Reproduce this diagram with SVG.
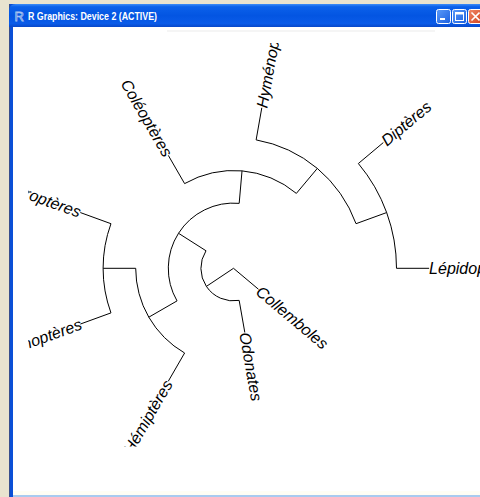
<svg xmlns="http://www.w3.org/2000/svg" width="480" height="497" viewBox="0 0 480 497">
  <defs>
    <linearGradient id="titleGrad" x1="0" y1="0" x2="0" y2="1">
      <stop offset="0" stop-color="#3E8DF7"/>
      <stop offset="0.12" stop-color="#0B61EA"/>
      <stop offset="0.5" stop-color="#0355E2"/>
      <stop offset="0.85" stop-color="#0A5BE8"/>
      <stop offset="1" stop-color="#0848C9"/>
    </linearGradient>
    <linearGradient id="btnBlue" x1="0" y1="0" x2="1" y2="1">
      <stop offset="0" stop-color="#5C9BF9"/>
      <stop offset="1" stop-color="#1A5FE0"/>
    </linearGradient>
    <linearGradient id="btnRed" x1="0" y1="0" x2="1" y2="1">
      <stop offset="0" stop-color="#F08A6A"/>
      <stop offset="1" stop-color="#D2411C"/>
    </linearGradient>
    <clipPath id="plotClip">
      <rect x="28.3" y="43" width="451.7" height="403.5"/>
    </clipPath>
  </defs>
  <style>
    .br { fill: none; stroke: #000; stroke-width: 1; }
    .lab { font-family: "Liberation Sans", Arial, sans-serif; font-size: 16px; font-style: italic; fill: #000; }
    .lab-r { text-anchor: start; }
    .lab-l { text-anchor: end; }
  </style>

  <!-- desktop and window frame -->
  <rect x="0" y="0" width="480" height="497" fill="#E9E3CF"/>
  <rect x="9" y="4" width="471" height="493" fill="#0A4FD6"/>
  <rect x="9" y="4" width="1" height="493" fill="#3A4F8C"/>
  <path d="M9 11 Q9 4 16 4 L480 4 L480 27 L9 27 Z" fill="url(#titleGrad)"/>
  <rect x="13" y="27" width="467" height="468" fill="#FFFFFF"/>
  <rect x="13" y="491" width="467" height="4" fill="#FFFEF4"/>
  <rect x="13" y="495" width="467" height="2" fill="#A9CBEF"/>
  <rect x="167" y="30" width="268" height="2" fill="#F5F5F5"/>

  <!-- title bar -->
  <text x="14.5" y="21" font-family="Liberation Sans, sans-serif" font-size="13" fill="none" stroke="#A9C3EE" stroke-width="0.8">R</text>
  <text x="28" y="19.5" font-family="Liberation Sans, sans-serif" font-weight="bold" font-size="10.5" fill="#FFFFFF" textLength="129" lengthAdjust="spacingAndGlyphs">R Graphics: Device 2 (ACTIVE)</text>
  <g id="btn-min">
    <rect x="436.5" y="9.5" width="14" height="14" rx="2" fill="url(#btnBlue)" stroke="#FFFFFF" stroke-width="1"/>
    <rect x="440" y="18" width="5" height="2" fill="#FFFFFF"/>
  </g>
  <g id="btn-max">
    <rect x="452.5" y="9.5" width="14" height="14" rx="2" fill="url(#btnBlue)" stroke="#FFFFFF" stroke-width="1"/>
    <rect x="455.5" y="12.5" width="8" height="8" fill="none" stroke="#FFFFFF" stroke-width="1"/>
    <rect x="455.5" y="12.5" width="8" height="2" fill="#FFFFFF"/>
  </g>
  <g id="btn-close">
    <rect x="468.5" y="9.5" width="14" height="14" rx="2" fill="url(#btnRed)" stroke="#FFFFFF" stroke-width="1"/>
    <path d="M471.5 12.5 L479.5 20.5 M479.5 12.5 L471.5 20.5" stroke="#FFFFFF" stroke-width="1.6"/>
  </g>

  <!-- tree: radial branches (centre 233.5,268.3; 32.6 px per level) -->
  <g id="edges" class="br">
    <path d="M233.5 268.3 L258.47 289.26"/>
    <path d="M233.5 268.3 L206.39 286.41"/>
    <path d="M239.16 300.40 L244.82 332.51"/>
    <path d="M206.00 250.78 L178.51 233.27"/>
    <path d="M177.04 300.90 L148.80 317.20"/>
    <path d="M239.18 203.35 L242.02 170.87"/>
    <path d="M184.60 353.00 L168.30 381.23"/>
    <path d="M135.70 268.30 L103.10 268.30"/>
    <path d="M110.96 312.90 L80.33 324.05"/>
    <path d="M110.96 223.70 L80.33 212.55"/>
    <path d="M184.60 183.60 L168.30 155.37"/>
    <path d="M296.36 193.38 L317.32 168.41"/>
    <path d="M256.14 139.88 L261.81 107.78"/>
    <path d="M356.04 223.70 L386.67 212.55"/>
    <path d="M358.36 163.53 L383.34 142.57"/>
    <path d="M396.50 268.30 L429.10 268.30"/>
  </g>

  <!-- internal nodes drawn as arcs -->
  <g id="node-A" class="br"><path d="M239.16 300.40 A32.6 32.6 0 0 1 206.00 250.78"/></g>
  <g id="node-B" class="br"><path d="M177.04 300.90 A65.2 65.2 0 0 1 239.18 203.35"/></g>
  <g id="node-F" class="br"><path d="M184.60 353.00 A97.8 97.8 0 0 1 135.70 268.30"/></g>
  <g id="node-G" class="br"><path d="M110.96 312.90 A130.4 130.4 0 0 1 110.96 223.70"/></g>
  <g id="node-C" class="br"><path d="M184.60 183.60 A97.8 97.8 0 0 1 296.36 193.38"/></g>
  <g id="node-D" class="br"><path d="M256.14 139.88 A130.4 130.4 0 0 1 356.04 223.70"/></g>
  <g id="node-E" class="br"><path d="M358.36 163.53 A163 163 0 0 1 396.50 268.30"/></g>

  <!-- tip labels, clipped to the plot region -->
  <g clip-path="url(#plotClip)">
    <g id="tip-lepidopteres"><text class="lab lab-r" transform="translate(429.1 268.3)" dy="0.35em">Lépidop</text></g>
    <g id="tip-dipteres"><text class="lab lab-r" transform="translate(383.34 142.57) rotate(-40)" dy="0.35em">Diptères</text></g>
    <g id="tip-hymenopteres"><text class="lab lab-r" transform="translate(261.81 107.78) rotate(-80)" dy="0.35em">Hyménop</text></g>
    <g id="tip-collemboles"><text class="lab lab-r" transform="translate(258.47 289.26) rotate(40)" dy="0.35em">Collemboles</text></g>
    <g id="tip-odonates"><text class="lab lab-r" transform="translate(244.82 332.51) rotate(80)" dy="0.35em">Odonates</text></g>
    <g id="tip-coleopteres"><text class="lab lab-l" transform="translate(168.30 155.37) rotate(60)" dy="0.35em">Coléoptères</text></g>
    <g id="tip-roptères"><text class="lab lab-l" transform="translate(80.33 212.55) rotate(20)" dy="0.35em">roptères</text></g>
    <g id="tip-noptères"><text class="lab lab-l" transform="translate(81.2 323.6) rotate(-20)" dy="0.35em">noptères</text></g>
    <g id="tip-hemipteres"><text class="lab lab-l" transform="translate(168.30 381.23) rotate(-60)" dy="0.35em">Hémiptères</text></g>
  </g>
</svg>
